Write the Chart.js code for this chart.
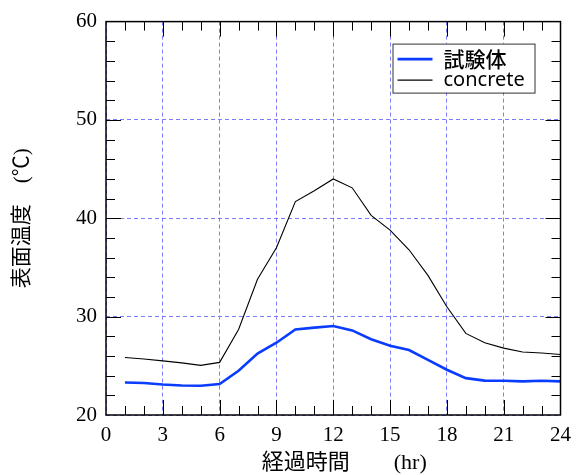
<!DOCTYPE html>
<html>
<head>
<meta charset="utf-8">
<script src="https://cdn.jsdelivr.net/npm/chart.js@4.4.0/dist/chart.umd.min.js"></script>
<style>
  html, body { margin: 0; padding: 0; background: #fff; }
  #wrap { width: 579px; height: 475px; }
</style>
</head>
<body>
<div id="wrap"><canvas id="c" width="579" height="475"></canvas></div>
<script>
// ---- data ----
const hours = [1,2,3,4,5,6,7,8,9,10,11,12,13,14,15,16,17,18,19,20,21,22,23,24];
const specimen = [23.3,23.25,23.1,23.0,22.97,23.15,24.5,26.25,27.35,28.7,28.88,29.05,28.6,27.7,27.05,26.6,25.6,24.6,23.75,23.5,23.48,23.42,23.48,23.42];
const concrete = [25.85,25.7,25.5,25.3,25.05,25.35,28.7,33.8,37.0,41.7,42.8,44.0,43.1,40.3,38.8,36.8,34.2,31.0,28.3,27.35,26.8,26.4,26.3,26.15];
const seriesLabels = ['試験体', 'concrete'];
const xTickValues = [0,3,6,9,12,15,18,21,24];
const yTickValues = [20,30,40,50,60];
const xTitle = '　経過時間　　(hr)';
const yTitle = '表面温度　(℃)';

const serif = "'Liberation Serif', 'Noto Sans CJK JP', serif";

const framePlugin = {
  id: 'frame',
  afterDatasetsDraw(chart) {
    const {ctx, chartArea: a, scales: {x, y}} = chart;
    ctx.save();
    ctx.strokeStyle = '#000';
    ctx.lineWidth = 1;
    ctx.beginPath();
    for (let v = 1; v < 24; v++) {
      const px = Math.round(x.getPixelForValue(v)) + 0.5;
      const len = (v % 3 === 0) ? 15 : 9;
      ctx.moveTo(px, a.top); ctx.lineTo(px, a.top + len);
      ctx.moveTo(px, a.bottom); ctx.lineTo(px, a.bottom - len);
    }
    for (let v = 22; v < 60; v += 2) {
      const py = Math.round(y.getPixelForValue(v)) + 0.5;
      const len = (v % 10 === 0) ? 15 : 9;
      ctx.moveTo(a.left, py); ctx.lineTo(a.left + len, py);
      ctx.moveTo(a.right, py); ctx.lineTo(a.right - len, py);
    }
    ctx.stroke();
    ctx.lineWidth = 1.5;
    ctx.strokeRect(a.left, a.top, a.right - a.left, a.bottom - a.top);
    ctx.restore();
  }
};

const legendPlugin = {
  id: 'boxLegend',
  afterDatasetsDraw(chart) {
    const {ctx, chartArea: a} = chart;
    const bx = a.right - 168, by = a.top + 22, bw = 142, bh = 49;
    ctx.save();
    ctx.fillStyle = '#fff';
    ctx.fillRect(bx, by, bw, bh);
    ctx.strokeStyle = '#333';
    ctx.lineWidth = 1;
    ctx.strokeRect(bx + 0.5, by + 0.5, bw, bh);
    chart.data.datasets.forEach((ds, i) => {
      const cy = by + 15.5 + i * 21;
      ctx.strokeStyle = ds.borderColor;
      ctx.lineWidth = ds.borderWidth;
      ctx.beginPath();
      ctx.moveTo(bx + 5, cy); ctx.lineTo(bx + 40, cy);
      ctx.stroke();
      ctx.fillStyle = '#000';
      ctx.textBaseline = 'middle';
      ctx.textAlign = 'left';
      ctx.font = i === 0
        ? "500 21px 'Noto Sans CJK JP', sans-serif"
        : "20px 'Noto Sans', 'Noto Sans CJK JP', sans-serif";
      ctx.fillText(ds.label, bx + 51, cy);
    });
    ctx.restore();
  }
};

new Chart(document.getElementById('c'), {
  type: 'line',
  data: {
    datasets: [
      {
        label: seriesLabels[0],
        data: hours.map((h, i) => ({x: h, y: specimen[i]})),
        borderColor: '#0a3cff',
        borderWidth: 2.6,
        pointRadius: 0,
        tension: 0,
        fill: false
      },
      {
        label: seriesLabels[1],
        data: hours.map((h, i) => ({x: h, y: concrete[i]})),
        borderColor: '#000000',
        borderWidth: 1.1,
        pointRadius: 0,
        tension: 0,
        fill: false
      }
    ]
  },
  options: {
    responsive: false,
    animation: false,
    devicePixelRatio: 1,
    layout: { padding: { top: 20, right: 13, left: 0, bottom: 0 } },
    plugins: { legend: { display: false }, tooltip: { enabled: false } },
    scales: {
      x: {
        type: 'linear',
        min: 0, max: 24,
        afterBuildTicks: (s) => { s.ticks = xTickValues.map(v => ({value: v})); },
        afterFit: (s) => { s.height = 60; },
        ticks: { color: '#000', font: { family: serif, size: 21 }, padding: 8, maxRotation: 0, autoSkip: false },
        grid: { color: '#7c7cff', lineWidth: 1, drawTicks: false },
        border: { display: false, dash: [4, 3] },
        title: { display: true, text: xTitle, color: '#000', font: { family: serif, size: 22, lineHeight: 1.0 }, padding: { top: 0, bottom: 1 } }
      },
      y: {
        type: 'linear',
        min: 20, max: 60,
        afterBuildTicks: (s) => { s.ticks = yTickValues.map(v => ({value: v})); },
        afterFit: (s) => { s.width = 106; },
        ticks: { color: '#000', font: { family: serif, size: 21 }, padding: 9 },
        grid: { color: '#7c7cff', lineWidth: 1, drawTicks: false },
        border: { display: false, dash: [4, 3] },
        title: { display: true, text: yTitle, color: '#000', font: { family: serif, size: 21, lineHeight: 1.0 }, padding: { top: 12, bottom: 0 } }
      }
    }
  },
  plugins: [framePlugin, legendPlugin]
});
</script>
</body>
</html>
